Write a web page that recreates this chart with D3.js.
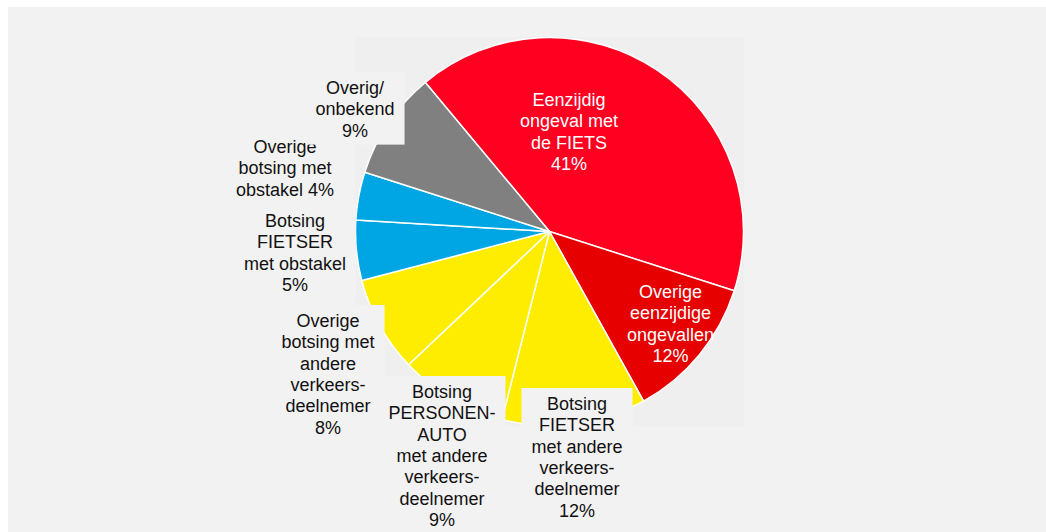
<!DOCTYPE html>
<html>
<head>
<meta charset="utf-8">
<script src="https://cdn.jsdelivr.net/npm/d3@7"></script>
<style>
  html, body { margin: 0; padding: 0; background: #ffffff; }
  svg { display: block; }
  text { font-family: "Liberation Sans", Arial, sans-serif; font-size: 18px; }
</style>
</head>
<body>
<svg id="chart" width="1046" height="532"></svg>
<script>
// Accident types (cyclists), share of total in percent
const categories = [
  "Eenzijdig ongeval met de FIETS",
  "Overige eenzijdige ongevallen",
  "Botsing FIETSER met andere verkeersdeelnemer",
  "Botsing PERSONENAUTO met andere verkeersdeelnemer",
  "Overige botsing met andere verkeersdeelnemer",
  "Botsing FIETSER met obstakel",
  "Overige botsing met obstakel",
  "Overig/onbekend"
];
const shares = [41, 12, 12, 9, 8, 5, 4, 9];

// Label text broken into lines as shown on the chart
const labelLines = [
  ["Eenzijdig", "ongeval met", "de FIETS"],
  ["Overige", "eenzijdige", "ongevallen"],
  ["Botsing", "FIETSER", "met andere", "verkeers-", "deelnemer"],
  ["Botsing", "PERSONEN-", "AUTO", "met andere", "verkeers-", "deelnemer"],
  ["Overige", "botsing met", "andere", "verkeers-", "deelnemer"],
  ["Botsing", "FIETSER", "met obstakel"],
  ["Overige", "botsing met", "obstakel"],
  ["Overig/", "onbekend"]
];
const percentOnLastLine = [false, false, false, false, false, false, true, false];

const sliceColors = ["#ff0020", "#e60000", "#ffed00", "#ffed00", "#ffed00", "#00a6e3", "#00a6e3", "#808080"];

// Label placement: offset of text centre / first baseline from the pie centre
const labelOffsets = [
  [19.5, -125.5], [121, 66.5], [27.5, 178.5], [-107.5, 166.5],
  [-221.5, 95.5], [-254.5, -4.5], [-264.5, -78.5], [-194.5, -137.5]
];
const labelInside = [true, true, false, false, false, false, false, false];

const W = 1046, H = 532;
const svg = d3.select("#chart");

// chart area and plot area backgrounds
svg.append("rect").attr("x", 8).attr("y", 7).attr("width", W - 8).attr("height", H - 7).attr("fill", "#f2f2f2");
const plot = { x: 355, y: 37, w: 389, h: 389 };
svg.append("rect").attr("x", plot.x).attr("y", plot.y).attr("width", plot.w).attr("height", plot.h).attr("fill", "#efefef");

const cx = plot.x + plot.w / 2, cy = plot.y + plot.h / 2;
const radius = 194;

const startAngle = -39.8 * Math.PI / 180;
const pie = d3.pie().sort(null).value(d => d)
  .startAngle(startAngle).endAngle(startAngle + 2 * Math.PI);
const arcs = pie(shares);
const arc = d3.arc().innerRadius(0).outerRadius(radius);

const g = svg.append("g").attr("transform", `translate(${cx},${cy})`);
g.selectAll("path.slice")
  .data(arcs)
  .join("path")
  .attr("class", "slice")
  .attr("d", arc)
  .attr("fill", (d, i) => sliceColors[i])
  .attr("stroke", "#ffffff")
  .attr("stroke-width", 1.5)
  .attr("stroke-linejoin", "round");

// data labels
const lineH = 21.3;
const labels = g.selectAll("g.label")
  .data(arcs)
  .join("g")
  .attr("class", "label");

labels.each(function (d, i) {
  const sel = d3.select(this);
  const lines = labelLines[i].slice();
  const pct = shares[i] + "%";
  if (percentOnLastLine[i]) lines[lines.length - 1] += " " + pct;
  else lines.push(pct);
  const [dx, dy] = labelOffsets[i];
  const inside = labelInside[i];

  const box = sel.append("rect").attr("fill", "#f2f2f2");
  const txt = sel.append("text")
    .attr("text-anchor", "middle")
    .attr("fill", inside ? "#ffffff" : "#111111");
  lines.forEach((ln, k) => {
    txt.append("tspan").attr("x", dx).attr("y", dy + k * lineH).text(ln);
  });

  if (inside) {
    box.remove();
  } else {
    let maxW = 0;
    txt.selectAll("tspan").each(function () {
      maxW = Math.max(maxW, this.getComputedTextLength());
    });
    box.attr("x", dx - maxW / 2 - 10)
      .attr("y", dy - 22)
      .attr("width", maxW + 20)
      .attr("height", (lines.length - 1) * lineH + 30);
  }
});
</script>
</body>
</html>
